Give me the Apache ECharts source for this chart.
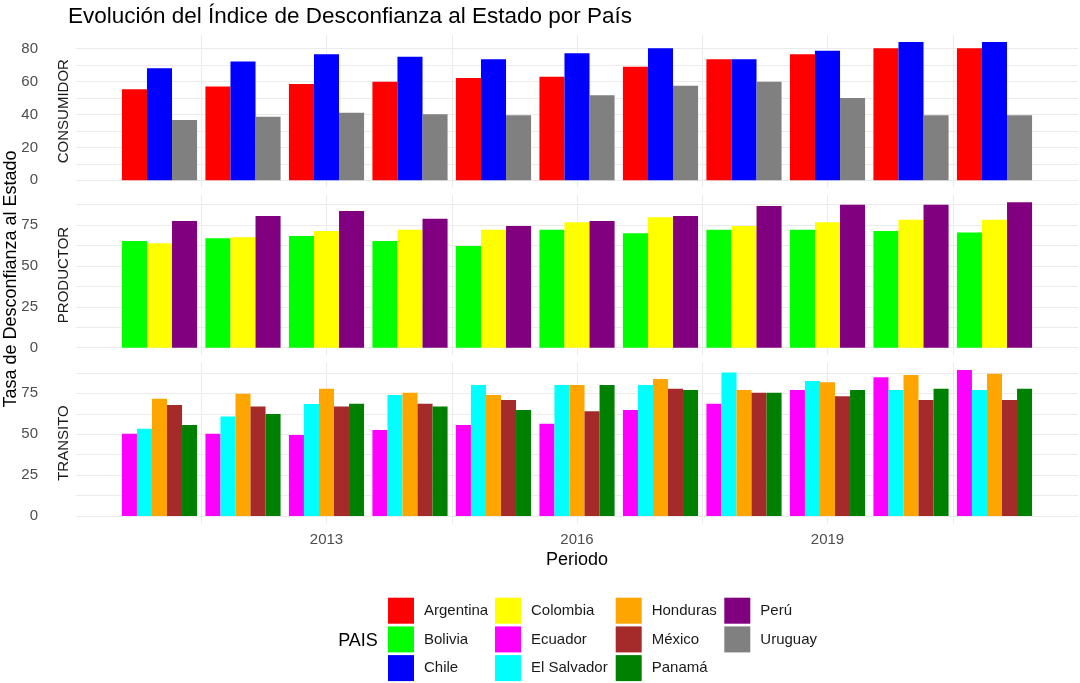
<!DOCTYPE html>
<html>
<head>
<meta charset="utf-8">
<script src="https://cdn.jsdelivr.net/npm/echarts@6/dist/echarts.min.js"></script>
<style>
  html, body { margin: 0; padding: 0; background: #fff; }
  #chart { width: 1080px; height: 683px; }
</style>
</head>
<body>
<div id="chart"></div>
<script>
const years = [2011, 2012, 2013, 2014, 2015, 2016, 2017, 2018, 2019, 2020, 2021];
const xTickLabels = [2013, 2016, 2019];

// CONSUMIDOR
const argentina = [55.3, 56.9, 58.5, 59.9, 62.1, 62.9, 69.0, 73.5, 76.5, 80.2, 80.2];
const chile = [68.0, 72.1, 76.5, 75.1, 73.5, 77.1, 80.2, 73.5, 78.7, 84.0, 84.0];
const uruguay = [36.6, 38.6, 41.1, 40.1, 39.5, 51.6, 57.5, 59.9, 50.0, 39.5, 39.5];

// PRODUCTOR
const bolivia = [65.2, 66.9, 68.3, 65.2, 62.2, 72.1, 69.9, 72.1, 72.1, 71.3, 70.5];
const colombia = [63.8, 67.5, 71.3, 72.1, 72.1, 76.7, 79.7, 74.4, 76.7, 78.2, 78.2];
const peru = [77.4, 80.5, 83.6, 78.9, 74.4, 77.4, 80.5, 86.6, 87.4, 87.4, 88.9];

// TRANSITO
const ecuador = [50.3, 50.3, 49.5, 52.6, 55.6, 56.4, 64.8, 68.7, 77.0, 84.8, 89.2];
const elSalvador = [53.4, 60.9, 68.5, 74.0, 80.1, 80.1, 80.1, 87.8, 82.5, 77.0, 77.0];
const honduras = [71.7, 74.8, 77.8, 75.4, 74.0, 80.1, 83.7, 77.0, 81.7, 86.2, 87.0];
const mexico = [67.8, 67.0, 67.0, 68.7, 70.9, 64.0, 77.8, 75.4, 73.2, 70.9, 70.9];
const panama = [55.6, 62.3, 68.7, 67.0, 64.8, 80.1, 77.0, 75.4, 77.0, 77.8, 77.8];

const facetNames = ['CONSUMIDOR', 'PRODUCTOR', 'TRANSITO'];
const yTickStep = [20, 25, 25];

const countries = [
  {name: 'Argentina', panel: 0, values: argentina, color: '#FF0000'},
  {name: 'Chile', panel: 0, values: chile, color: '#0000FF'},
  {name: 'Uruguay', panel: 0, values: uruguay, color: '#808080'},
  {name: 'Bolivia', panel: 1, values: bolivia, color: '#00FF00'},
  {name: 'Colombia', panel: 1, values: colombia, color: '#FFFF00'},
  {name: 'Perú', panel: 1, values: peru, color: '#800080'},
  {name: 'Ecuador', panel: 2, values: ecuador, color: '#FF00FF'},
  {name: 'El Salvador', panel: 2, values: elSalvador, color: '#00FFFF'},
  {name: 'Honduras', panel: 2, values: honduras, color: '#FFA500'},
  {name: 'México', panel: 2, values: mexico, color: '#A52A2A'},
  {name: 'Panamá', panel: 2, values: panama, color: '#008000'}
];

const legendColumns = [
  ['Argentina', 'Bolivia', 'Chile'],
  ['Colombia', 'Ecuador', 'El Salvador'],
  ['Honduras', 'México', 'Panamá'],
  ['Perú', 'Uruguay']
];

const FONT = 'Liberation Sans, Arial, sans-serif';
const GRID_COLOR = '#EBEBEB';
const SMALL = 15;
const MEDIUM = 18;

// panel boxes (px), ggplot-like free space
const panels = [
  {top: 35.1, height: 152.1},
  {top: 195.0, height: 160.0},
  {top: 362.8, height: 160.5}
];

const panelMax = facetNames.map((f, p) => {
  let m = 0;
  countries.filter(c => c.panel === p).forEach(c => {
    m = Math.max(m, ...c.values);
  });
  return m;
});

const grids = panels.map(p => ({left: 76, right: 2, top: p.top, height: p.height}));

const xAxes = panels.map((p, i) => ({
  type: 'value',
  gridIndex: i,
  min: 2010,
  max: 2022,
  interval: 1.5,
  axisLine: {show: false},
  axisTick: {show: false},
  splitLine: {show: true, showMinLine: false, showMaxLine: false, lineStyle: {color: GRID_COLOR, width: 1}},
  axisLabel: {
    show: i === 2,
    margin: 9,
    color: '#4D4D4D',
    fontSize: SMALL,
    fontFamily: FONT,
    showMinLabel: false,
    showMaxLabel: false,
    formatter: v => xTickLabels.indexOf(Math.round(v * 10) / 10) >= 0 ? String(v) : ''
  }
}));

const yAxes = panels.map((p, i) => ({
  type: 'value',
  gridIndex: i,
  min: -0.05 * panelMax[i],
  max: 1.05 * panelMax[i],
  minInterval: yTickStep[i] / 2,
  maxInterval: yTickStep[i] / 2,
  axisLine: {show: false},
  axisTick: {show: false},
  splitLine: {show: true, showMinLine: false, showMaxLine: false, lineStyle: {color: GRID_COLOR, width: 1}},
  axisLabel: {
    margin: 38,
    color: '#4D4D4D',
    fontSize: SMALL,
    fontFamily: FONT,
    formatter: v => {
      const r = Math.round(v * 100) / 100;
      return (r >= 0 && r % yTickStep[i] === 0) ? String(Math.abs(r)) : '';
    }
  }
}));

const series = countries.map(c => ({
  name: c.name,
  type: 'bar',
  xAxisIndex: c.panel,
  yAxisIndex: c.panel,
  barGap: '0%',
  barCategoryGap: '10%',
  itemStyle: {color: c.color},
  data: years.map((y, i) => [y, c.values[i]])
}));

const legends = legendColumns.map((names, i) => ({
  data: names,
  orient: 'vertical',
  left: [388, 495, 615.7, 724.3][i],
  top: 597.7,
  padding: 0,
  itemGap: 2.7,
  itemWidth: 26,
  itemHeight: 26,
  icon: 'rect',
  selectedMode: false,
  textStyle: {fontSize: SMALL, color: '#1A1A1A', fontFamily: FONT, padding: [0, 0, 0, 5]}
}));

const textEl = (text, x, y, size, color, rotate) => ({
  type: 'text',
  x: x,
  y: y,
  rotation: rotate ? Math.PI / 2 : 0,
  style: {
    text: text,
    fontSize: size,
    fontFamily: FONT,
    fill: color,
    align: 'center',
    verticalAlign: 'middle',
    textAlign: 'center',
    textVerticalAlign: 'middle'
  }
});

const graphics = [
  textEl('Tasa de Desconfianza al Estado', 11.5, 279, MEDIUM, '#000', true),
  textEl('Periodo', 577, 560.5, MEDIUM, '#000', false),
  textEl('PAIS', 358, 641, MEDIUM, '#000', false)
];
panels.forEach((p, i) => {
  graphics.push(textEl(facetNames[i], 64, p.top + p.height / 2, SMALL, '#1A1A1A', true));
});

const chart = echarts.init(document.getElementById('chart'));
chart.setOption({
  animation: false,
  backgroundColor: '#fff',
  textStyle: {fontFamily: FONT},
  title: {
    text: 'Evolución del Índice de Desconfianza al Estado por País',
    left: 68,
    top: 5,
    padding: 0,
    textStyle: {fontSize: 22.5, fontWeight: 'normal', color: '#000', fontFamily: FONT}
  },
  grid: grids,
  xAxis: xAxes,
  yAxis: yAxes,
  legend: legends,
  graphic: graphics,
  series: series
});
</script>
</body>
</html>
